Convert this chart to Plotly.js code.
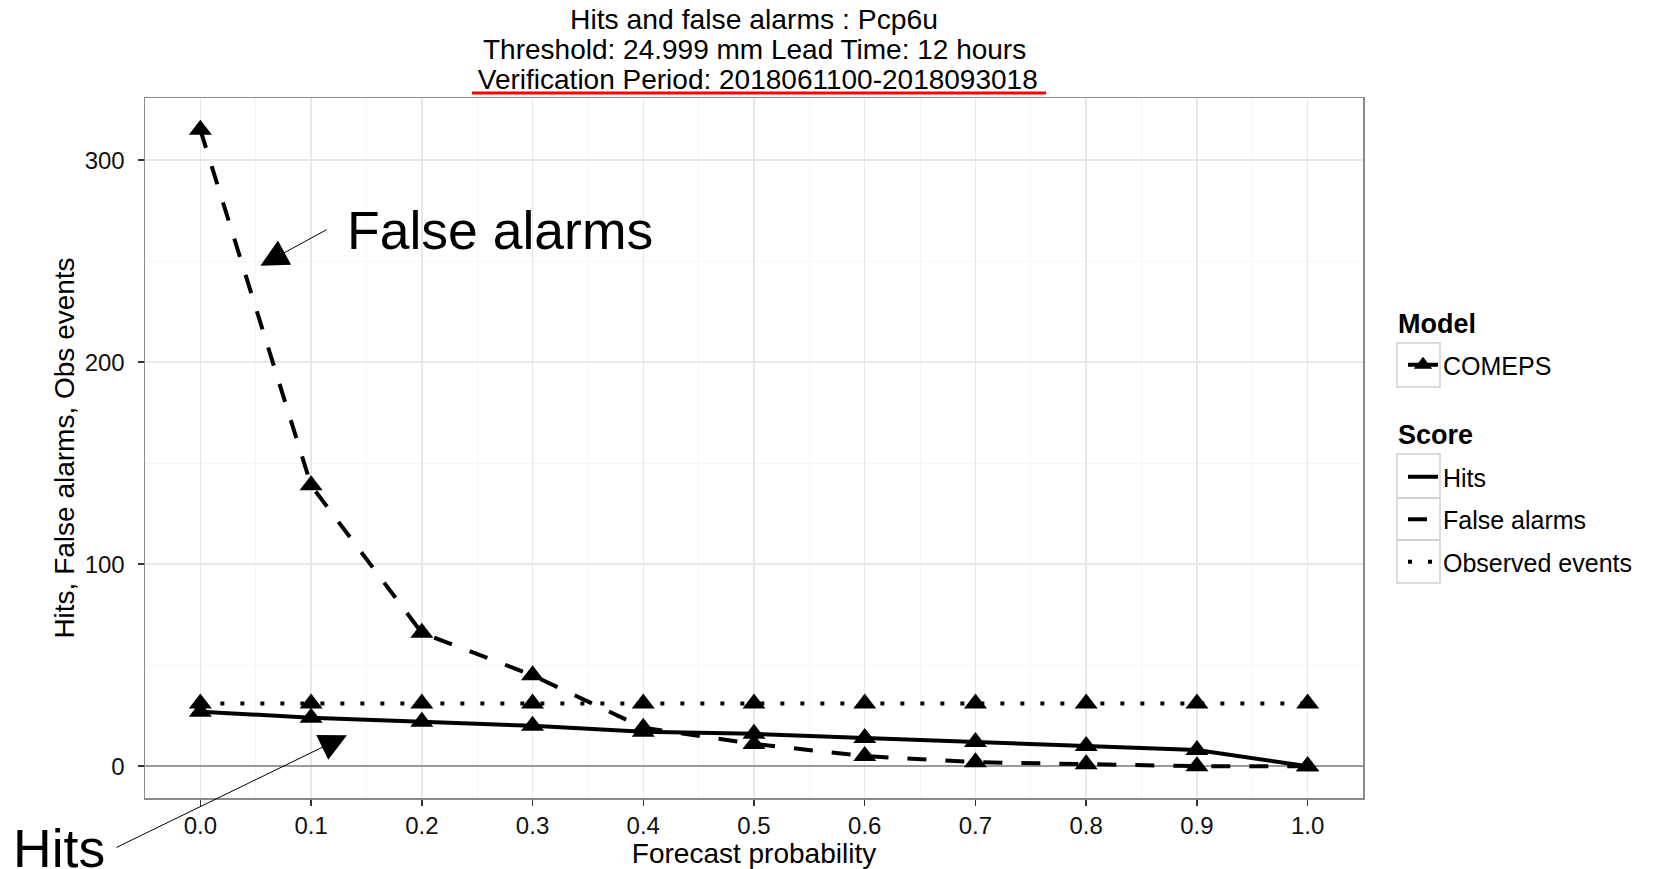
<!DOCTYPE html>
<html><head><meta charset="utf-8">
<script src="https://cdn.plot.ly/plotly-3.0.1.min.js"></script>
<style>html,body{margin:0;padding:0;background:#fff}#chart{width:1657px;height:869px}</style>
</head><body><div id="chart"></div>
<script>
// ---- data ----
const probability = [0.0, 0.1, 0.2, 0.3, 0.4, 0.5, 0.6, 0.7, 0.8, 0.9, 1.0];
const hits = [27, 24, 22, 20, 17, 16, 14, 12, 10, 8, 0];
const falseAlarms = [315, 139, 66, 45, 19, 11, 5, 2, 1, 0, 0];
const observedEvents = [31, 31, 31, 31, 31, 31, 31, 31, 31, 31, 31];
const xTickVals = [0.0, 0.1, 0.2, 0.3, 0.4, 0.5, 0.6, 0.7, 0.8, 0.9, 1.0];
const xTickText = ['0.0', '0.1', '0.2', '0.3', '0.4', '0.5', '0.6', '0.7', '0.8', '0.9', '1.0'];
const yTickVals = [0, 100, 200, 300];
const titleLines = ['Hits and false alarms : Pcp6u', 'Threshold: 24.999 mm Lead Time: 12 hours', ' Verification Period: 2018061100-2018093018'];
const modelName = 'COMEPS';
const scoreNames = ['Hits', 'False alarms', 'Observed events'];
const legendTitles = ['Model', 'Score'];
const axisTitles = {x: 'Forecast probability', y: 'Hits, False alarms, Obs events'};
const noteTexts = {fa: 'False alarms', hits: 'Hits'};

const FONT = 'Liberation Sans, Arial, Helvetica, sans-serif';
const dashes = ['solid', '19px,19px', '4px,16px'];
const series = [hits, falseAlarms, observedEvents];

const marker = {symbol: 'triangle-up', size: 20, color: '#000'};
const traces = series.map((vals, i) => ({
  type: 'scatter', mode: 'lines+markers', x: probability, y: vals,
  line: {color: '#000', width: 4, dash: dashes[i]},
  marker: marker, showlegend: false, hoverinfo: 'skip', cliponaxis: false
}));

// legend-only traces
traces.push({
  type: 'scatter', mode: 'lines+markers', x: [null], y: [null], name: modelName,
  line: {color: '#000', width: 4}, marker: {symbol: 'triangle-up', size: 16, color: '#000'},
  legend: 'legend', showlegend: true
});
scoreNames.forEach((nm, i) => {
  traces.push({
    type: 'scatter', mode: 'lines', x: [null], y: [null], name: nm,
    line: {color: '#000', width: 4, dash: dashes[i]},
    legend: 'legend2', legendgroup: 'g' + i, showlegend: true
  });
});

// px helpers for paper coords
const L = 145, R = 1363, T = 98, B = 798;
const px = x => (x - L) / (R - L);
const py = y => (B - y) / (B - T);

const boxes = [[343, 387], [454, 498], [498, 540], [540, 583]];
const shapes = boxes.map(b => ({
  type: 'rect', xref: 'paper', yref: 'paper', x0: px(1397), x1: px(1440), y0: py(b[1]), y1: py(b[0]),
  line: {color: '#d0d0d0', width: 1.5}, fillcolor: 'rgba(0,0,0,0)', layer: 'below'
}));
shapes.push({type: 'line', xref: 'paper', yref: 'paper', x0: px(472), x1: px(1046), y0: py(93), y1: py(93),
  line: {color: '#ff0000', width: 3}});

const annotations = [
  {text: titleLines[1], xref: 'paper', yref: 'paper', x: 0.5, y: py(49.5), xanchor: 'center', yanchor: 'middle', showarrow: false, font: {size: 28, color: '#000', family: FONT}},
  {text: titleLines[2], xref: 'paper', yref: 'paper', x: 0.5, y: py(79), xanchor: 'center', yanchor: 'middle', showarrow: false, font: {size: 28, color: '#000', family: FONT}},
  {text: '<b>' + legendTitles[0] + '</b>', xref: 'paper', yref: 'paper', x: px(1396), y: py(324), xanchor: 'left', yanchor: 'middle', showarrow: false, font: {size: 27, color: '#000', family: FONT}},
  {text: '<b>' + legendTitles[1] + '</b>', xref: 'paper', yref: 'paper', x: px(1396), y: py(434.5), xanchor: 'left', yanchor: 'middle', showarrow: false, font: {size: 27, color: '#000', family: FONT}},
  {text: noteTexts.fa, xref: 'x', yref: 'y', x: 0.131, y: 265, xanchor: 'left', yanchor: 'middle', showarrow: false, font: {size: 53.5, color: '#000', family: FONT}},
  {text: noteTexts.hits, xref: 'paper', yref: 'paper', x: px(11), y: py(848), xanchor: 'left', yanchor: 'middle', showarrow: false, font: {size: 53.5, color: '#000', family: FONT}},
  {text: ' ', xref: 'x', yref: 'y', x: 0.0542, y: 247.7, axref: 'x', ayref: 'y', ax: 0.1158, ay: 266.1,
    showarrow: true, arrowhead: 2, arrowwidth: 1, arrowsize: 5.5, arrowcolor: '#000', standoff: 0, font: {size: 2}},
  {text: ' ', xref: 'x', yref: 'y', x: 0.1324, y: 15.3, axref: 'x', ayref: 'y', ax: -0.0776, ay: -40.7,
    showarrow: true, arrowhead: 2, arrowwidth: 1, arrowsize: 5.5, arrowcolor: '#000', standoff: 0, font: {size: 2}}
];

const layout = {
  width: 1657, height: 869,
  margin: {l: L, r: 1657 - R, t: T, b: 869 - B, pad: 0},
  paper_bgcolor: '#fff', plot_bgcolor: '#fff',
  font: {family: FONT, color: '#000'},
  title: {text: titleLines[0], x: 0.5, xref: 'paper', y: 1 - 19 / 869, yref: 'container', yanchor: 'middle', xanchor: 'center',
    font: {size: 28.3, color: '#000', family: FONT}},
  xaxis: {
    range: [-0.05, 1.05], tickvals: xTickVals, ticktext: xTickText,
    showgrid: true, gridcolor: '#e8e8e8', gridwidth: 1.5,
    minor: {dtick: 0.05, showgrid: true, gridcolor: '#f6f6f6', gridwidth: 1, ticks: ''},
    zeroline: false, showline: true, mirror: true, linecolor: '#8a8a8a', linewidth: 1.5,
    ticks: 'outside', ticklen: 6, tickwidth: 1.5, tickcolor: '#333', ticklabelstandoff: 0,
    tickfont: {size: 24, color: '#111', family: FONT},
    title: {text: axisTitles.x, font: {size: 28, color: '#000', family: FONT}, standoff: 5}
  },
  yaxis: {
    range: [-15.75, 330.75], tickvals: yTickVals,
    showgrid: true, gridcolor: '#e8e8e8', gridwidth: 1.5,
    minor: {dtick: 50, showgrid: true, gridcolor: '#f6f6f6', gridwidth: 1, ticks: ''},
    zeroline: true, zerolinecolor: '#9a9a9a', zerolinewidth: 2.5,
    showline: true, mirror: true, linecolor: '#8a8a8a', linewidth: 1.5,
    ticks: 'outside', ticklen: 6, tickwidth: 1.5, tickcolor: '#333', ticklabelstandoff: 8,
    tickfont: {size: 24, color: '#111', family: FONT},
    title: {text: axisTitles.y, font: {size: 28, color: '#000', family: FONT}, standoff: 2}
  },
  legend: {
    x: px(1403), xanchor: 'left', y: py(342), yanchor: 'top', bgcolor: 'rgba(0,0,0,0)', borderwidth: 0,
    font: {size: 25, color: '#000', family: FONT}, itemclick: false, itemdoubleclick: false
  },
  legend2: {
    x: px(1403), xanchor: 'left', y: py(454), yanchor: 'top', bgcolor: 'rgba(0,0,0,0)', borderwidth: 0,
    traceorder: 'grouped', tracegroupgap: 7,
    font: {size: 25, color: '#000', family: FONT}, itemclick: false, itemdoubleclick: false
  },
  shapes: shapes, annotations: annotations, hovermode: false
};

Plotly.newPlot('chart', traces, layout, {displayModeBar: false, staticPlot: true});
</script></body></html>
